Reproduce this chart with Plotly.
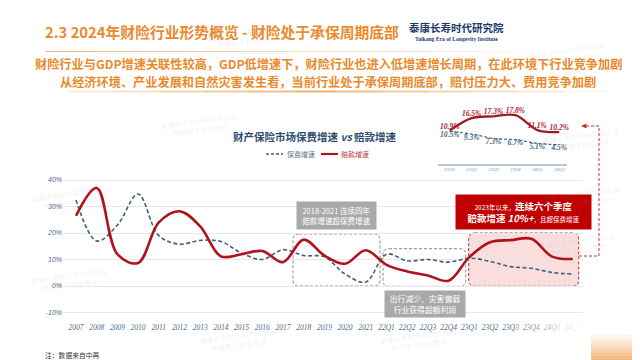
import plotly.graph_objects as go

# ---------------- data ----------------
categories = ["2007", "2008", "2009", "2010", "2011", "2012", "2013", "2014", "2015",
              "2016", "2017", "2018", "2019", "2020", "2021",
              "22Q1", "22Q2", "22Q3", "22Q4", "23Q1", "23Q2", "23Q3", "23Q4", "24Q1", "24Q2"]
premium_growth = [32.5, 17.0, 23.0, 34.7, 19.0, 15.8, 17.2, 16.8, 12.4, 10.0, 13.7, 11.5, 11.0,
                  4.5, 1.5, 12.0, 9.5, 10.0, 9.0, 10.5, 9.3, 7.3, 6.7, 5.1, 4.5]
claims_growth = [26.5, 37.0, 12.0, 8.7, 24.0, 28.2, 22.5, 11.2, 12.0, 13.2, 9.0, 17.5, 11.5,
                 8.4, 13.5, 8.0, 5.5, 4.0, 2.0, 10.9, 16.5, 17.3, 17.8, 11.1, 10.2]
y_ticks = [-10, 0, 10, 20, 30, 40]
y_tick_labels = ["-10%", "0%", "10%", "20%", "30%", "40%"]

inset_categories = ["23Q1", "23Q2", "23Q3", "23Q4", "24Q1", "24Q2"]
inset_claims = [10.9, 16.5, 17.3, 17.8, 11.1, 10.2]
inset_premium = [10.5, 9.3, 7.3, 6.7, 5.1, 4.5]

# ---------------- helpers ----------------
W, H = 640, 360
CJK = "Noto Sans CJK SC"


def px(x):
    return x / W


def py(y):
    return 1 - y / H


def rrect(x0, y0, x1, y1, r):
    pts = [("M", x0 + r, y0), ("L", x1 - r, y0), ("Q", x1, y0, x1, y0 + r),
           ("L", x1, y1 - r), ("Q", x1, y1, x1 - r, y1), ("L", x0 + r, y1),
           ("Q", x0, y1, x0, y1 - r), ("L", x0, y0 + r), ("Q", x0, y0, x0 + r, y0)]
    s = ""
    for p in pts:
        cmd = p[0]
        coords = p[1:]
        parts = []
        for i in range(0, len(coords), 2):
            parts.append(f"{px(coords[i]):.5f},{py(coords[i + 1]):.5f}")
        s += cmd + " " + " ".join(parts) + " "
    return s + "Z"


def poly(points):
    return "M " + " L ".join(f"{px(x):.5f},{py(y):.5f}" for x, y in points)


# main plot pixel mapping
X0_PX, X_STEP = 68.0, 20.7
ZERO_PX, Y_SCALE = 278.0, 2.65
xd0, xd1 = 55, 575
yd_top, yd_bot = 160, 313
x_range = [(xd0 - X0_PX) / X_STEP, (xd1 - X0_PX) / X_STEP]
y_range = [(ZERO_PX - yd_bot) / Y_SCALE, (ZERO_PX - yd_top) / Y_SCALE]

# inset mapping
IX0_PX, IX_STEP = 441.7, 21.9
IZERO_PX, IY_SCALE = 146.7, 2.22
ixd0, ixd1 = 430, 559
iyd_top, iyd_bot = 92, 155.7
ix_range = [(ixd0 - IX0_PX) / IX_STEP, (ixd1 - IX0_PX) / IX_STEP]
iy_range = [(IZERO_PX - iyd_bot) / IY_SCALE, (IZERO_PX - iyd_top) / IY_SCALE]

BLUE = "#3f6078"
RED = "#b0121c"
ORANGE = "#ea8a2c"

fig = go.Figure()

fig.add_trace(go.Scatter(
    x=categories, y=premium_growth, mode="lines", name="保费增速",
    line=dict(color=BLUE, width=1.6, dash="4px,2.5px", shape="spline", smoothing=1.0),
    xaxis="x", yaxis="y", showlegend=False, hoverinfo="skip"))
fig.add_trace(go.Scatter(
    x=categories, y=claims_growth, mode="lines", name="赔款增速",
    line=dict(color=RED, width=2.6, shape="spline", smoothing=1.0),
    xaxis="x", yaxis="y", showlegend=False, hoverinfo="skip"))

# inset
fig.add_trace(go.Scatter(
    x=inset_categories, y=inset_premium, mode="lines+text",
    text=[f"{v:.1f}%" for v in inset_premium], textposition="bottom center",
    textfont=dict(family="Liberation Serif", size=7.5, color="#4a6884", style="italic", weight="bold"),
    line=dict(color="#34506a", width=1.1, dash="3px,2px", shape="spline"),
    xaxis="x2", yaxis="y2", showlegend=False, hoverinfo="skip", cliponaxis=False))
fig.add_trace(go.Scatter(
    x=inset_categories, y=inset_claims, mode="lines+text",
    text=[f"{v:.1f}%" for v in inset_claims], textposition="top center",
    textfont=dict(family="Liberation Serif", size=7.5, color="#a8232b", style="italic", weight="bold"),
    line=dict(color="#a01c24", width=2.3, shape="spline"),
    xaxis="x2", yaxis="y2", showlegend=False, hoverinfo="skip", cliponaxis=False))

shapes = []
annotations = []

# boxes
shapes.append(dict(type="path", path=rrect(460.7, 225, 570.7, 278.3, 6), xref="paper", yref="paper",
                   fillcolor="rgba(244,176,176,0.42)", line=dict(color="#b03030", width=1, dash="3px,2px"),
                   layer="below"))
shapes.append(dict(type="path", path=rrect(285, 226, 372, 278, 6), xref="paper", yref="paper",
                   line=dict(color="#8a8a8a", width=1, dash="3px,2px"), layer="below"))
shapes.append(dict(type="path", path=rrect(375, 240.7, 457.7, 278.3, 6), xref="paper", yref="paper",
                   line=dict(color="#8a8a8a", width=1, dash="3px,2px"), layer="below"))

# connector
shapes.append(dict(type="path", path=poly([(571, 248), (591, 248), (591, 118), (578, 118)]),
                   xref="paper", yref="paper", line=dict(color="#c0392b", width=1, dash="3px,2px")))
shapes.append(dict(type="path", path=poly([(573, 118), (578.5, 115.5), (578.5, 120.5)]) + " Z",
                   xref="paper", yref="paper", fillcolor="#c0392b", line=dict(width=0)))

# title underline and orange rule
for i in range(10):
    a = 0.9 - i * 0.085
    shapes.append(dict(type="line", xref="paper", yref="paper",
                       x0=px(38 + i * 48), x1=px(38 + (i + 1) * 48), y0=py(43.5), y1=py(43.5),
                       line=dict(color=f"rgba(226,180,130,{a:.2f})", width=1)))
for i in range(12):
    t = i / 11
    a = 0.8 * (1 - abs(t - 0.45) * 1.6)
    a = max(a, 0.1)
    shapes.append(dict(type="line", xref="paper", yref="paper",
                       x0=px(60 + i * 45), x1=px(60 + (i + 1) * 45), y0=py(83.5), y1=py(83.5),
                       line=dict(color=f"rgba(240,160,80,{a:.2f})", width=2)))

# legend (manual)
shapes.append(dict(type="line", xref="paper", yref="paper", x0=px(258), x1=px(275), y0=py(146), y1=py(146),
                   line=dict(color=BLUE, width=1.6, dash="3px,2px")))
shapes.append(dict(type="line", xref="paper", yref="paper", x0=px(313), x1=px(330), y0=py(146), y1=py(146),
                   line=dict(color=RED, width=2.2)))
annotations.append(dict(text="保费增速", x=px(277), y=py(146), xref="paper", yref="paper", xanchor="left",
                        yanchor="middle", showarrow=False, font=dict(family=CJK, size=7, color="#5b6f83")))
annotations.append(dict(text="赔款增速", x=px(331), y=py(146), xref="paper", yref="paper", xanchor="left",
                        yanchor="middle", showarrow=False, font=dict(family=CJK, size=7, color="#c04040")))

# chart title
annotations.append(dict(text="<b>财产保险市场保费增速 <i>vs</i> 赔款增速</b>", x=px(307), y=py(128),
                        xref="paper", yref="paper", xanchor="center", yanchor="middle", showarrow=False,
                        font=dict(family=CJK, size=10.5, color="#2e4e6e")))

# label boxes
annotations.append(dict(text="2018-2021 连续四年<br>赔款增速超保费增速", x=px(328.5), y=py(207.5),
                        xref="paper", yref="paper", xanchor="center", yanchor="middle", showarrow=False,
                        width=79, height=27, bgcolor="#a9a9a9", borderpad=0,
                        font=dict(family=CJK, size=7.5, color="white")))
annotations.append(dict(text="出行减少、灾害偏弱<br>行业获得超额利润", x=px(416.8), y=py(296),
                        xref="paper", yref="paper", xanchor="center", yanchor="middle", showarrow=False,
                        width=80, height=26, bgcolor="#a9a9a9", borderpad=0,
                        font=dict(family=CJK, size=7.8, color="white")))
annotations.append(dict(
    text="<span style='font-size:6.5px'>2023年以来，</span><b>连续六个季度</b><br>"
         "<b>赔款增速 <i>10%+</i></b><span style='font-size:6.5px'>，且超保费增速</span>",
    x=px(515.5), y=py(204), xref="paper", yref="paper", xanchor="center", yanchor="middle",
    showarrow=False, width=135, height=34, bgcolor="#c00000", borderpad=0,
    font=dict(family=CJK, size=9.5, color="white")))

# headline texts
annotations.append(dict(text="<b>2.3 2024年财险行业形势概览 - 财险处于承保周期底部</b>", x=px(35), y=py(24),
                        xref="paper", yref="paper", xanchor="left", yanchor="middle", showarrow=False,
                        font=dict(family=CJK, size=14.8, color=ORANGE)))
annotations.append(dict(text="<b>泰康长寿时代研究院</b>", x=px(448), y=py(19), xref="paper", yref="paper",
                        xanchor="center", yanchor="middle", showarrow=False,
                        font=dict(family=CJK, size=10.5, color="#1d3a6a")))
annotations.append(dict(text="<b>Taikang Era of Longevity Institute</b>", x=px(448), y=py(31), xref="paper",
                        yref="paper", xanchor="center", yanchor="middle", showarrow=False,
                        font=dict(family="Liberation Serif", size=5.6, color="#1d3a6a")))
annotations.append(dict(text="<b>财险行业与GDP增速关联性较高，GDP低增速下，财险行业也进入低增速增长周期，在此环境下行业竞争加剧</b>",
                        x=px(320), y=py(56), xref="paper", yref="paper", xanchor="center", yanchor="middle",
                        showarrow=False, borderpad=0, font=dict(family=CJK, size=12.2, color=ORANGE)))
annotations.append(dict(text="<b>从经济环境、产业发展和自然灾害发生看，当前行业处于承保周期底部，赔付压力大、费用竞争加剧</b>",
                        x=px(320), y=py(74.5), xref="paper", yref="paper", xanchor="center", yanchor="middle",
                        showarrow=False, borderpad=0, font=dict(family=CJK, size=12.2, color=ORANGE)))
annotations.append(dict(text="注：数据来自中再", x=px(35), y=py(347), xref="paper", yref="paper",
                        xanchor="left", yanchor="middle", showarrow=False,
                        font=dict(family=CJK, size=6.8, color="#333333")))

# faint watermarks
wm = "泰康长寿时代研究院出品<br>严禁用于商业用途"
for (wx, wy) in [(20, 190), (615, 115), (615, 190), (612, 255), (230, 350), (410, 350), (600, 30),
                 (195, 12), (20, 290), (150, 100)]:
    annotations.append(dict(text=wm, x=px(wx), y=py(wy), xref="paper", yref="paper", showarrow=False,
                            textangle=-8, font=dict(family=CJK, size=7, color="rgba(150,150,150,0.14)")))

# bottom-right fade overlays
for i in range(10):
    a = min(0.12 + i * 0.1, 0.97)
    shapes.append(dict(type="rect", xref="paper", yref="paper", x0=px(508 + i * 7), x1=px(515 + i * 7),
                       y0=py(336), y1=py(316), fillcolor=f"rgba(255,255,255,{a:.2f})", line=dict(width=0)))
shapes.append(dict(type="rect", xref="paper", yref="paper", x0=px(578), x1=px(640), y0=py(336), y1=py(316),
                   fillcolor="white", line=dict(width=0)))
for i in range(12):
    t = i / 11
    r = int(255 - t * (255 - 243))
    g = int(255 - t * (255 - 166))
    b = int(255 - t * (255 - 92))
    shapes.append(dict(type="rect", xref="paper", yref="paper", x0=px(583), x1=px(640),
                       y0=py(324 + i * 3), y1=py(327 + i * 3), fillcolor=f"rgb({r},{g},{b})",
                       line=dict(width=0)))

fig.update_layout(
    width=W, height=H, margin=dict(l=0, r=0, t=0, b=0),
    paper_bgcolor="white", plot_bgcolor="rgba(0,0,0,0)",
    xaxis=dict(domain=[px(xd0), px(xd1)], type="category", range=x_range, showgrid=False,
               zeroline=False, showline=False, ticks="", anchor="y",
               tickfont=dict(family="Liberation Serif", size=7.5, color="#4d6b8a", style="italic"),
               tickangle=0),
    yaxis=dict(domain=[py(yd_bot), py(yd_top)], range=y_range, tickvals=y_ticks, ticktext=y_tick_labels,
               showgrid=True, gridcolor="#e8e8e8", gridwidth=1, zeroline=False, showline=False, ticks="",
               anchor="x",
               tickfont=dict(family="Liberation Sans", size=7, color="#4d6b8a", style="italic")),
    xaxis2=dict(domain=[px(ixd0), px(ixd1)], type="category", range=ix_range, anchor="y2",
                showgrid=False, zeroline=False, showline=True, linecolor="#b8c8d8", linewidth=1.5,
                ticks="", tickfont=dict(family="Liberation Serif", size=4.8, color="#7d93aa", style="italic")),
    yaxis2=dict(domain=[py(iyd_bot), py(iyd_top)], range=iy_range, anchor="x2", visible=False),
    shapes=shapes, annotations=annotations,
)

fig.write_html("out.html")
